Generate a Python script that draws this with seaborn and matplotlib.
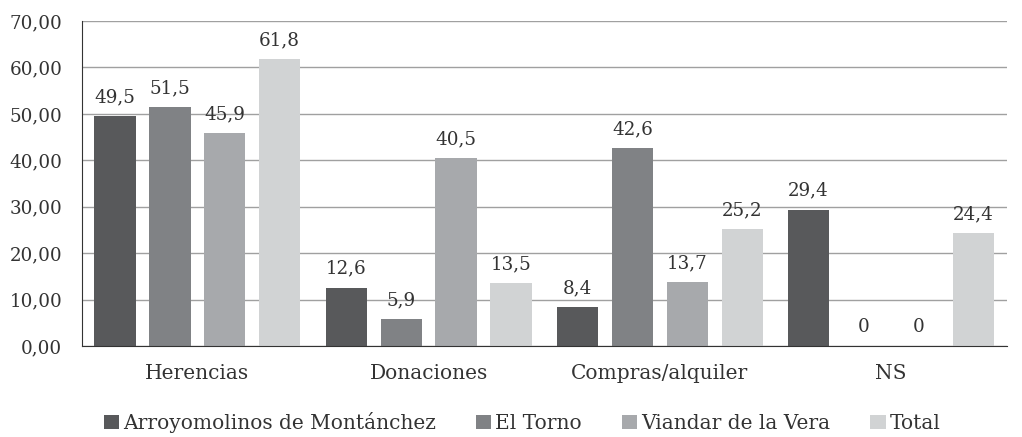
import seaborn as sns
import matplotlib.pyplot as plt
import pandas as pd

categories = ['Herencias', 'Donaciones', 'Compras/alquiler', 'NS']
series = ['Arroyomolinos de Montánchez', 'El Torno', 'Viandar de la Vera', 'Total']
arroyomolinos = [49.5, 12.6, 8.4, 29.4]
el_torno = [51.5, 5.9, 42.6, 0]
viandar = [45.9, 40.5, 13.7, 0]
total = [61.8, 13.5, 25.2, 24.4]
colors = ['#58595b', '#808285', '#a7a9ac', '#d1d3d4']

rows = []
for name, vals in zip(series, [arroyomolinos, el_torno, viandar, total]):
    for cat, v in zip(categories, vals):
        rows.append({'cat': cat, 'serie': name, 'valor': v})
df = pd.DataFrame(rows)

sns.set_style('white')
plt.rcParams['font.family'] = ['DejaVu Serif']

fs_num = 13.2
fs_txt = 14.5
txt = '#333333'
fig, ax = plt.subplots(figsize=(10.22, 4.37), dpi=100)
sns.barplot(data=df, x='cat', y='valor', hue='serie', palette=colors,
            width=0.95, gap=0.25, ax=ax, saturation=1, linewidth=0)

for cont in ax.containers:
    labels = [('%g' % v).replace('.', ',') for v in cont.datavalues]
    ax.bar_label(cont, labels=labels, padding=7, fontsize=fs_num, color=txt)

ax.set_ylim(0, 70)
ax.set_yticks(range(0, 71, 10))
ax.set_yticklabels(['%d,00' % t for t in range(0, 71, 10)], fontsize=fs_num, color=txt)
ax.tick_params(axis='x', labelsize=fs_txt, labelcolor=txt, pad=13, length=0)
ax.tick_params(axis='y', length=0, pad=14)
ax.set_xlabel('')
ax.set_ylabel('')
ax.yaxis.grid(True, color='#a0a0a0', linewidth=1)
ax.set_axisbelow(True)
for s in ['top', 'right']:
    ax.spines[s].set_visible(False)
ax.spines['left'].set_color('#333333')
ax.spines['bottom'].set_color('#333333')

ax.legend(loc='center', bbox_to_anchor=(0.476, -0.235), ncol=4, frameon=False,
          fontsize=fs_txt, handlelength=0.75, handleheight=0.75, columnspacing=2.0,
          handletextpad=0.2, labelcolor=txt)

fig.subplots_adjust(left=0.08, right=0.985, top=0.952, bottom=0.208)
fig.savefig('out.png')
